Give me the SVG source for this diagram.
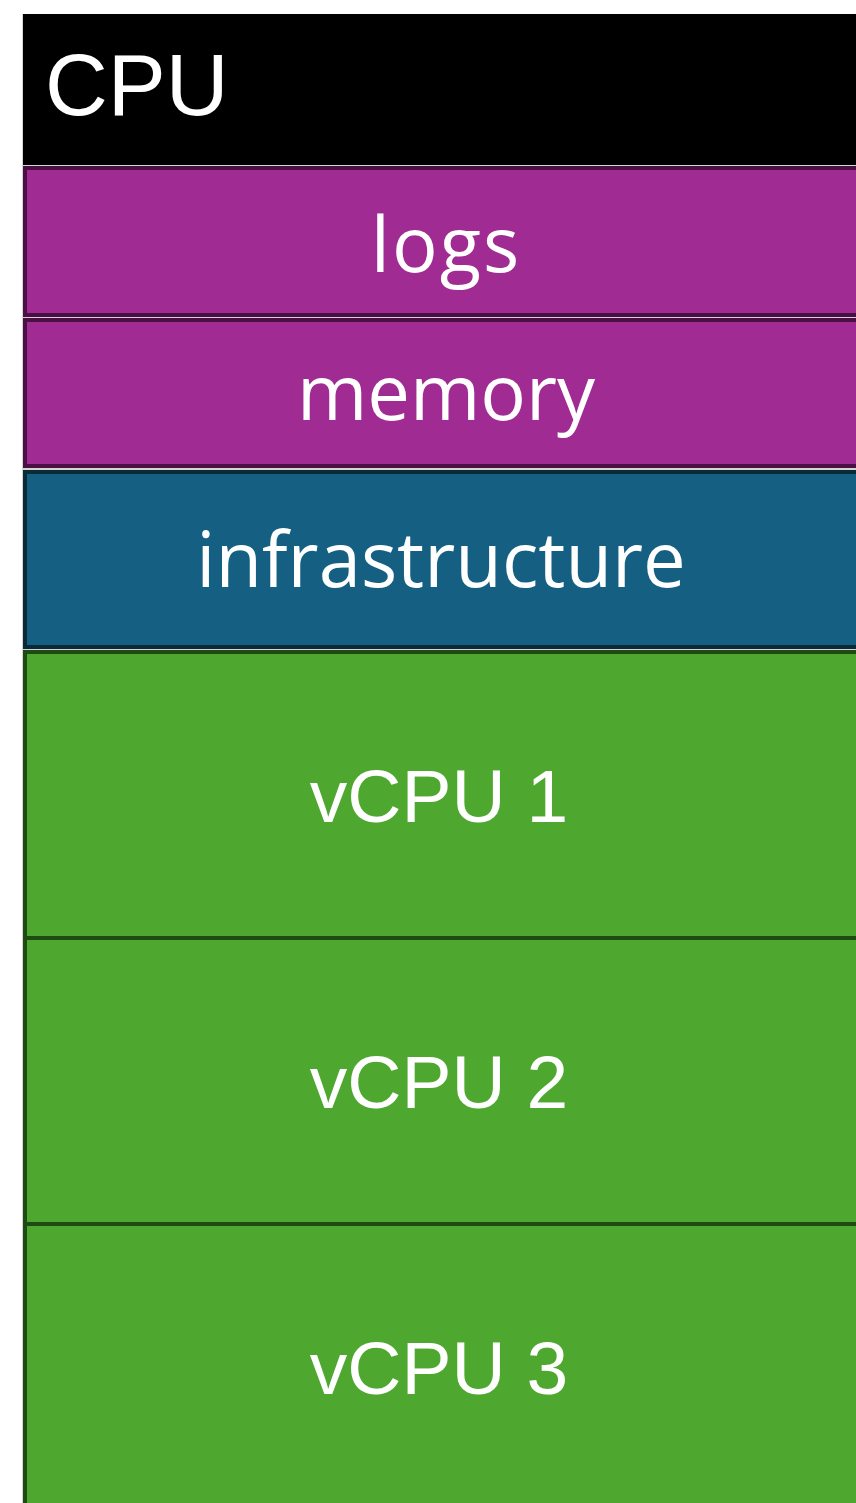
<svg xmlns="http://www.w3.org/2000/svg" width="856" height="1503" viewBox="0 0 856 1503">
  <style>
    .lbl { fill: #ffffff; text-anchor: middle; }
    .sans { font-family: "Open Sans", "Noto Sans", sans-serif; font-size: 76px; }
    .arial { font-family: "Liberation Sans", Arial, sans-serif; font-size: 75px; }
    .purple { fill: #A02B93; stroke: #4A1043; stroke-width: 4; }
    .blue { fill: #156082; stroke: #0B2A38; stroke-width: 4; }
    .green { fill: #4EA72E; stroke: #1F4A14; stroke-width: 4; }
  </style>

  <!-- thin light edge behind the stack -->
  <rect x="22" y="14" width="850" height="1500" fill="#d4d4d4"/>

  <g id="cpu">
    <rect x="23" y="14" width="850" height="151" fill="#000000"/>
    <text x="45" y="115" fill="#ffffff" font-family="Liberation Sans, Arial, sans-serif" font-size="87">CPU</text>
  </g>

  <g id="logs">
    <rect class="purple" x="25" y="168" width="850" height="147"/>
    <text class="lbl sans" x="446" y="272" font-size="85" letter-spacing="2">logs</text>
  </g>

  <g id="memory">
    <rect class="purple" x="25" y="320" width="850" height="146"/>
    <text class="lbl sans" x="446" y="420">memory</text>
  </g>

  <g id="infrastructure">
    <rect class="blue" x="25" y="472" width="850" height="175"/>
    <text class="lbl sans" x="441" y="587">infrastructure</text>
  </g>

  <g id="vcpu1">
    <rect class="green" x="25" y="652" width="850" height="286"/>
    <text class="lbl arial" x="439" y="822">vCPU 1</text>
  </g>

  <g id="vcpu2">
    <rect class="green" x="25" y="938" width="850" height="286"/>
    <text class="lbl arial" x="439" y="1108">vCPU 2</text>
  </g>

  <g id="vcpu3">
    <rect class="green" x="25" y="1224" width="850" height="300"/>
    <text class="lbl arial" x="439" y="1394">vCPU 3</text>
  </g>

  <g id="connectors"/>
</svg>
